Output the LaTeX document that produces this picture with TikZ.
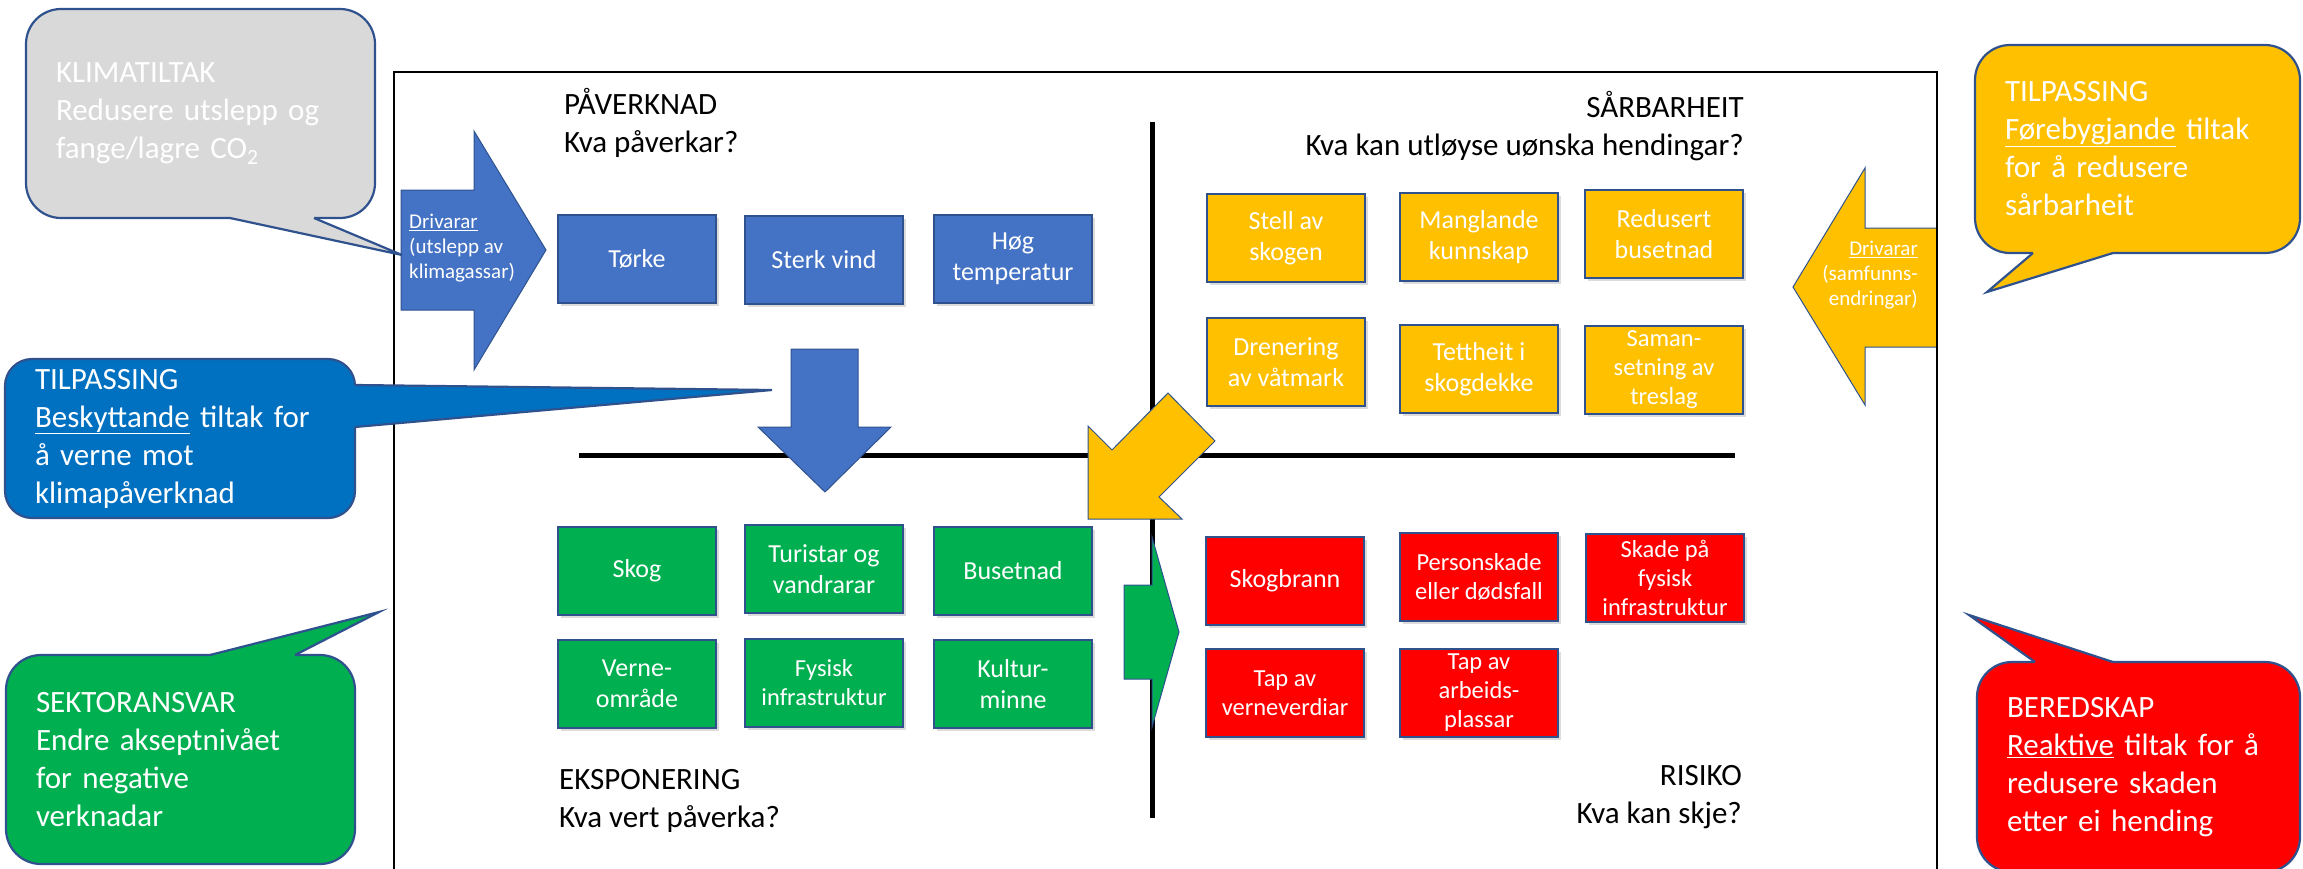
\documentclass[tikz,border=0pt]{standalone}
\usepackage{fontspec}
\setmainfont{Carlito}
\usetikzlibrary{shadows}
\definecolor{blaa}{HTML}{4472C4}
\definecolor{gul}{HTML}{FFC000}
\definecolor{groen}{HTML}{00B050}
\definecolor{raud}{HTML}{FF0000}
\definecolor{havblaa}{HTML}{0070C0}
\definecolor{graa}{HTML}{D9D9D9}
\definecolor{linje}{HTML}{2F528F}
\tikzset{
  boks/.style={draw=linje, line width=1.2pt, minimum width=158pt, minimum height=88pt,
    inner sep=1pt, align=center, text=white, font=\fontsize{26}{31}\selectfont,
    drop shadow={shadow xshift=2.5pt, shadow yshift=-3pt, opacity=.28}},
  liten/.style={font=\fontsize{24.5}{29}\selectfont},
  boble/.style={draw=linje, line width=2.2pt, rounded corners=35pt, text=white,
    align=left, font=\fontsize{31}{38}\selectfont, inner xsep=30pt, inner ysep=0pt},
  peik/.style={draw=linje, line width=2.2pt, line join=miter},
  pil/.style={draw=linje, line width=1pt, line join=miter},
  tittel/.style={font=\fontsize{31}{38}\selectfont, inner sep=0pt},
  driv/.style={text=white, font=\fontsize{21}{25}\selectfont, inner sep=0pt}
}
\begin{document}
\begin{tikzpicture}[x=1pt,y=-1pt]
\useasboundingbox (0,0) rectangle (2303,868);
\draw[line width=5pt] (1152,122) -- (1152,818) (579,455) -- (1735,455);
\filldraw[pil, fill=blaa]
  (401,190) -- (474,190) -- (474,131) -- (546,250) -- (474,370) -- (474,310) -- (401,310) -- cycle
  (791,349) -- (858,349) -- (858,427) -- (891,427) -- (825,492) -- (758,427) -- (791,427) -- cycle;
\filldraw[pil, fill=gul]
  (1937,228) -- (1865,228) -- (1865,168) -- (1793,287) -- (1865,405) -- (1865,347) -- (1937,347) -- cycle
  (1168,393) -- (1215,441) -- (1159,497) -- (1182,519) -- (1088,519) -- (1088,426) -- (1112,450) -- cycle;
\filldraw[pil, fill=groen]
  (1124,585) -- (1152,585) -- (1152,537) -- (1179,632) -- (1152,727) -- (1152,679) -- (1124,679) -- cycle;
\draw[line width=2.5pt] (394,880) -- (394,72) -- (1937,72) -- (1937,880);

\node[boks, fill=blaa] (torke) at (637,259) {Tørke};
\node[boks, fill=blaa] (vind) at (824,260) {Sterk vind};
\node[boks, fill=blaa] (temp) at (1013,259) {Høg\\temperatur};

\node[boks, fill=gul] (stell) at (1286,238) {Stell av\\skogen};
\node[boks, fill=gul] (kunnskap) at (1479,237) {Manglande\\kunnskap};
\node[boks, fill=gul] (redusert) at (1664,234) {Redusert\\busetnad};
\node[boks, fill=gul] (drenering) at (1286,362) {Drenering\\av våtmark};
\node[boks, fill=gul] (tettheit) at (1479,369) {Tettheit i\\skogdekke};
\node[boks, fill=gul, liten] (treslag) at (1664,370) {Saman-\\setning av\\treslag};

\node[boks, fill=groen] (skog) at (637,571) {Skog};
\node[boks, fill=groen] (turistar) at (824,569) {Turistar og\\vandrarar};
\node[boks, fill=groen] (busetnad) at (1013,571) {Busetnad};
\node[boks, fill=groen] (verne) at (637,684) {Verne-\\område};
\node[boks, fill=groen, liten] (infra) at (824,683) {Fysisk\\infrastruktur};
\node[boks, fill=groen] (kultur) at (1013,684) {Kultur-\\minne};

\node[boks, fill=raud] (brann) at (1285,581) {Skogbrann};
\node[boks, fill=raud, liten] (person) at (1479,577) {Personskade\\eller dødsfall};
\node[boks, fill=raud, liten] (skade) at (1665,578) {Skade på\\fysisk\\infrastruktur};
\node[boks, fill=raud, liten] (verneverdi) at (1285,693) {Tap av\\verneverdiar};
\node[boks, fill=raud, liten] (arbeid) at (1479,693) {Tap av\\arbeids-\\plassar};

\node[tittel, anchor=west, align=left] (paaverknad) at (564,123) {PÅVERKNAD\\Kva påverkar?};
\node[tittel, anchor=east, align=right] (saarbarheit) at (1744,126) {SÅRBARHEIT\\Kva kan utløyse uønska hendingar?};
\node[tittel, anchor=west, align=left] (eksponering) at (559,801) {EKSPONERING\\Kva vert påverka?};
\node[tittel, anchor=east, align=right] (risiko) at (1742,797) {RISIKO\\Kva kan skje?};
\node[driv, anchor=west, align=left] (drivA) at (409,248) {\underline{Drivarar}\\(utslepp av\\klimagassar)};
\node[driv, anchor=east, align=right] (drivB) at (1918,275) {\underline{Drivarar}\\(samfunns-\\endringar)};

\node[boble, fill=graa, minimum height=209pt, text width=289pt] (klima) at (200.5,113.5)
  {KLIMATILTAK\\Redusere utslepp og\\fange/lagre CO\textsubscript{2}};
\fill[graa] (230,214) -- (230,218) -- (402,255) -- (314,218) -- (314,214) -- cycle;
\draw[peik] (230,218) -- (402,255) -- (314,218);
\node[boble, fill=havblaa, rounded corners=27pt, minimum height=159pt, text width=290pt] (vern) at (180,438.5)
  {TILPASSING\\\underline{Beskyttande} tiltak for\\å verne mot\\klimapåverknad};
\fill[havblaa] (351,385) -- (355,385) -- (772,390) -- (355,427) -- (351,427) -- cycle;
\draw[peik] (355,385) -- (772,390) -- (355,427);
\node[boble, fill=groen, minimum height=209pt, text width=289pt] (sektor) at (180.5,759.5)
  {SEKTORANSVAR\\Endre akseptnivået\\for negative\\verknadar};
\fill[groen] (210,659) -- (210,655) -- (379,612) -- (295,655) -- (295,659) -- cycle;
\draw[peik] (210,655) -- (379,612) -- (295,655);
\node[boble, fill=gul, minimum height=208pt, text width=265pt] (forebygg) at (2137.5,149)
  {TILPASSING\\\underline{Førebygjande} tiltak\\for å redusere\\sårbarheit};
\fill[gul] (2033,249) -- (2033,253) -- (1987,292) -- (2113,253) -- (2113,249) -- cycle;
\draw[peik] (2033,253) -- (1987,292) -- (2113,253);
\node[boble, fill=raud, minimum height=210pt, text width=263pt] (beredskap) at (2138.5,767)
  {BEREDSKAP\\\underline{Reaktive} tiltak for å\\redusere skaden\\etter ei hending};
\fill[raud] (2035,666) -- (2035,662) -- (1969,615) -- (2113,662) -- (2113,666) -- cycle;
\draw[peik] (2035,662) -- (1969,615) -- (2113,662);
\end{tikzpicture}
\end{document}
